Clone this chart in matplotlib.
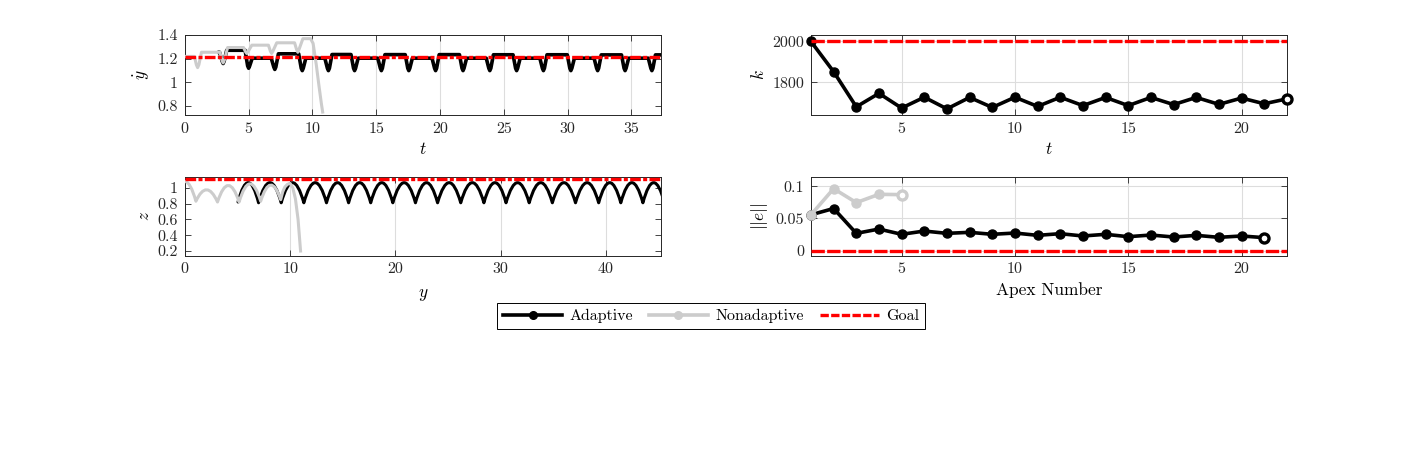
import numpy as np
import matplotlib.pyplot as plt
from matplotlib.path import Path
from matplotlib.patches import PathPatch
from matplotlib.lines import Line2D
from matplotlib.ticker import FuncFormatter

plt.rcParams['font.family'] = ['cmr10']
plt.rcParams['mathtext.fontset'] = 'cm'
plt.rcParams['axes.formatter.use_mathtext'] = True
plt.rcParams['axes.unicode_minus'] = False

c_ad = 'black'
c_na = '#cccccc'
c_goal = '#ff0000'
c_axis = '#262626'

########## ydot vs t (alto sinistra) ##########
# adaptive: tempi dei minimi, valore minimo, livello di volo dopo ogni minimo
dip_t_ad = [3.0, 5.0, 7.05, 9.2, 11.25, 13.3, 15.4, 17.55, 19.65, 21.8, 23.9,
            26.0, 28.1, 30.25, 32.35, 34.5, 36.6]
dip_min_ad = [1.16, 1.12, 1.11, 1.10, 1.10, 1.10, 1.10, 1.10, 1.10, 1.10, 1.10,
              1.10, 1.10, 1.10, 1.10, 1.10, 1.10]
level_ad = [1.272, 1.205, 1.242, 1.205, 1.236, 1.205, 1.235, 1.205, 1.235, 1.205,
            1.234, 1.205, 1.234, 1.205, 1.233, 1.205, 1.233]
t0_ad, ydot0_ad, t_end_ad = 2.7, 1.255, 37.3

# nonadaptive
t_na = [0, 0.75, 0.9, 1.0, 1.1, 1.3, 2.75, 2.9, 3.0, 3.1, 3.35, 4.6, 4.75, 4.85,
        4.95, 5.25, 6.55, 6.7, 6.8, 6.9, 7.2, 8.6, 8.75, 8.85, 8.95, 9.25, 9.85,
        10.05, 10.3, 10.5, 10.7, 10.8]
ydot_na = [1.22, 1.22, 1.15, 1.125, 1.15, 1.255, 1.255, 1.19, 1.165, 1.19, 1.295,
           1.295, 1.26, 1.245, 1.26, 1.315, 1.315, 1.265, 1.245, 1.265, 1.335,
           1.335, 1.28, 1.255, 1.28, 1.37, 1.37, 1.33, 1.15, 0.98, 0.82, 0.75]
goal_ydot = 1.215

########## z vs y (basso sinistra) ##########
min_y_ad = [5.05, 7.0, 9.15, 11.3, 13.45, 15.55, 17.65, 19.75, 21.9, 24.0, 26.2,
            28.4, 30.5, 32.7, 34.9, 37.1, 39.3, 41.4, 43.5, 45.55]
min_z_ad = [0.82, 0.81, 0.81, 0.81, 0.81, 0.81, 0.81, 0.81, 0.81, 0.81, 0.81,
            0.81, 0.81, 0.81, 0.81, 0.81, 0.81, 0.81, 0.81, 0.81]
peak_z_ad = [1.065, 1.065, 1.065, 1.065, 1.065, 1.065, 1.065, 1.065, 1.065, 1.065,
             1.065, 1.065, 1.065, 1.065, 1.065, 1.065, 1.065, 1.065, 1.065]

y0_na, z0_na = 0.0, 1.08
min_y_na = [1.05, 3.1, 5.15, 7.2, 9.1]
min_z_na = [0.83, 0.82, 0.82, 0.83, 0.85]
peak_z_na = [0.975, 1.03, 1.05, 1.035]
tail_y_na = [9.3, 9.5, 9.75, 10.0, 10.25, 10.5, 10.75, 11.0]
tail_z_na = [0.95, 1.01, 1.045, 1.055, 1.0, 0.86, 0.6, 0.18]
goal_z = 1.11

########## k vs apex (alto destra) ##########
apex_k = np.arange(1, 23)
k_ad = [2000, 1852, 1680, 1746, 1674, 1727, 1670, 1726, 1677, 1727, 1682,
        1727, 1686, 1726, 1686, 1726, 1691, 1726, 1692, 1723, 1695, 1719]
goal_k = 2000

########## ||e|| vs apex (basso destra) ##########
apex_e_ad = np.arange(1, 22)
e_ad = [0.0557, 0.0655, 0.0268, 0.0335, 0.0253, 0.0304, 0.0268, 0.0284, 0.0253,
        0.0273, 0.0237, 0.0263, 0.0227, 0.0253, 0.0216, 0.0242, 0.0211, 0.0237,
        0.0206, 0.0227, 0.0201]
apex_e_na = np.arange(1, 6)
e_na = [0.0557, 0.0964, 0.0747, 0.0876, 0.0871]
goal_e = 0


def stile(ax, solo_x=False):
    ax.tick_params(direction='in', which='both', top=True, right=True, length=4,
                   width=0.6, labelsize=11.5, colors=c_axis, pad=5)
    for s in ax.spines.values():
        s.set_linewidth(0.7)
        s.set_color(c_axis)
    fmt = FuncFormatter(lambda v, p: '%g' % v)
    ax.xaxis.set_major_formatter(fmt)
    ax.yaxis.set_major_formatter(fmt)
    ax.set_axisbelow(True)
    ax.grid(True, axis='x' if solo_x else 'both', color='#dddddd', lw=0.8)


def archi(vert, mins_y, mins_z, peaks_z):
    # archi di volo come bezier quadratiche tra due minimi consecutivi
    codes = []
    for i in range(len(peaks_z)):
        ya, za = mins_y[i], mins_z[i]
        yb, zb = mins_y[i + 1], mins_z[i + 1]
        vert.append(((ya + yb) / 2, 2 * peaks_z[i] - (za + zb) / 2))
        vert.append((yb, zb))
        codes += [Path.CURVE3, Path.CURVE3]
    return codes


fig = plt.figure(figsize=(14.22, 4.69), dpi=100)
ax1 = fig.add_axes([0.13, 0.7548, 0.3347, 0.1716])
ax2 = fig.add_axes([0.13, 0.4548, 0.3347, 0.1684])
ax3 = fig.add_axes([0.5703, 0.7548, 0.3347, 0.1716])
ax4 = fig.add_axes([0.5703, 0.4548, 0.3347, 0.1684])

# --- ax1 ---
tt = [t0_ad]
vv = [ydot0_ad]
prev = ydot0_ad
for d, m, lev in zip(dip_t_ad, dip_min_ad, level_ad):
    tt += [d - 0.28, d - 0.08, d, d + 0.08, d + 0.28]
    vv += [prev, m + 0.02, m, m + 0.02, lev]
    prev = lev
tt.append(t_end_ad)
vv.append(prev)
ax1.plot(tt, vv, color=c_ad, lw=2.6, zorder=2, solid_joinstyle='round')
ax1.plot(t_na, ydot_na, color=c_na, lw=2.2, zorder=3, solid_joinstyle='round')
ax1.axhline(goal_ydot, color=c_goal, lw=2.4, ls=(0, (3.2, 0.7, 1.2, 0.7)), zorder=4)
ax1.set_xlim(0, 37.3)
ax1.set_ylim(0.725, 1.405)
ax1.set_xticks([0, 5, 10, 15, 20, 25, 30, 35])
ax1.set_yticks([0.8, 1, 1.2, 1.4])
stile(ax1, solo_x=True)
ax1.set_xlabel(r'$t$', fontsize=12.5)
ax1.set_ylabel(r'$\dot{y}$', fontsize=12.5)

# --- ax2 ---
vert = [(min_y_ad[0], min_z_ad[0])]
codes = [Path.MOVETO] + archi(vert, min_y_ad, min_z_ad, peak_z_ad)
ax2.add_patch(PathPatch(Path(vert, codes), fill=False, edgecolor=c_ad, lw=2.2,
                        zorder=2, joinstyle='round', capstyle='round'))
vert = [(y0_na, z0_na), ((y0_na + min_y_na[0]) / 2, z0_na), (min_y_na[0], min_z_na[0])]
codes = [Path.MOVETO, Path.CURVE3, Path.CURVE3] + archi(vert, min_y_na, min_z_na, peak_z_na)
for yv, zv in zip(tail_y_na, tail_z_na):
    vert.append((yv, zv))
    codes.append(Path.LINETO)
ax2.add_patch(PathPatch(Path(vert, codes), fill=False, edgecolor=c_na, lw=2.2,
                        zorder=3, joinstyle='round'))
ax2.axhline(goal_z, color=c_goal, lw=2.4, ls=(0, (3.2, 0.7, 1.2, 0.7)), zorder=4)
ax2.set_xlim(0, 45.2)
ax2.set_ylim(0.14, 1.14)
ax2.set_xticks([0, 10, 20, 30, 40])
ax2.set_yticks([0.2, 0.4, 0.6, 0.8, 1])
stile(ax2, solo_x=True)
ax2.set_xlabel(r'$y$', fontsize=12.5, labelpad=8)
ax2.set_ylabel(r'$z$', fontsize=12.5)

# --- ax3 ---
ax3.plot(apex_k, k_ad, color=c_ad, lw=2.6, marker='o', ms=6.5, zorder=3, clip_on=False)
ax3.plot(apex_k[-1:], k_ad[-1:], ls='none', marker='o', ms=6.5, mfc='white',
         mec=c_ad, mew=2.4, zorder=3, clip_on=False)
ax3.axhline(goal_k, color=c_goal, lw=2.4, ls=(0, (4, 0.7)), zorder=4)
ax3.set_xlim(1, 22)
ax3.set_ylim(1640, 2034)
ax3.set_xticks([5, 10, 15, 20])
ax3.set_yticks([1800, 2000])
stile(ax3)
ax3.set_xlabel(r'$t$', fontsize=12.5)
ax3.set_ylabel(r'$k$', fontsize=12.5)

# --- ax4 ---
ax4.plot(apex_e_ad, e_ad, color=c_ad, lw=2.6, marker='o', ms=6.5, zorder=2, clip_on=False)
ax4.plot(apex_e_ad[-1:], e_ad[-1:], ls='none', marker='o', ms=6.5, mfc='white',
         mec=c_ad, mew=2.4, zorder=2, clip_on=False)
ax4.plot(apex_e_na, e_na, color=c_na, lw=2.6, marker='o', ms=6.5, zorder=3, clip_on=False)
ax4.plot(apex_e_na[-1:], e_na[-1:], ls='none', marker='o', ms=6.5, mfc='white',
         mec=c_na, mew=2.4, zorder=3, clip_on=False)
ax4.axhline(goal_e, color=c_goal, lw=2.4, ls=(0, (4, 0.7)), zorder=4)
ax4.set_xlim(1, 22)
ax4.set_ylim(-0.008, 0.115)
ax4.set_xticks([5, 10, 15, 20])
ax4.set_yticks([0, 0.05, 0.1])
stile(ax4)
ax4.set_xlabel('Apex Number', fontsize=12.5)
ax4.set_ylabel(r'$||e||$', fontsize=12.5)

# legenda
h = [Line2D([], [], color=c_ad, lw=2.6, marker='o', ms=5.5),
     Line2D([], [], color=c_na, lw=2.6, marker='o', ms=5.5),
     Line2D([], [], color=c_goal, lw=2.4, ls=(0, (2.5, 0.7)))]
leg = fig.legend(h, ['Adaptive', 'Nonadaptive', 'Goal'], loc='center',
                 bbox_to_anchor=(0.5, 1 - 316 / 469), ncol=3, numpoints=1,
                 fontsize=11.5, handlelength=3.7, columnspacing=1.0,
                 handletextpad=0.45, fancybox=False, framealpha=1,
                 edgecolor='black', borderpad=0.35)
leg.get_frame().set_linewidth(0.7)

fig.savefig('out.png', dpi=100)
